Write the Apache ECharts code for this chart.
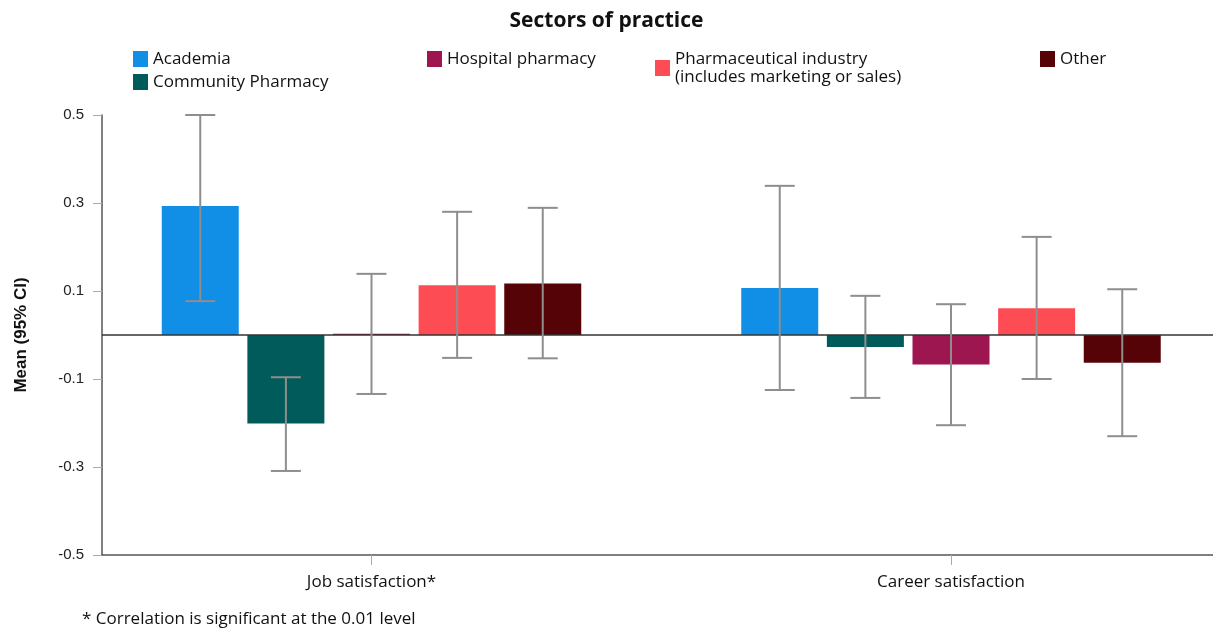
<!DOCTYPE html>
<html>
<head>
<meta charset="utf-8">
<script src="https://cdn.jsdelivr.net/npm/echarts@6/dist/echarts.min.js"></script>
<style>
html,body{margin:0;padding:0;background:#fff;}
#chart{width:1213px;height:628px;}
</style>
</head>
<body>
<div id="chart"></div>
<script>
// ---- data ----
const categories = ['Job satisfaction*', 'Career satisfaction'];
const sectors = ['Academia', 'Community Pharmacy', 'Hospital pharmacy', 'Pharmaceutical industry (includes marketing or sales)', 'Other'];
const meanAcademia = [0.293, 0.107];
const meanCommunity = [-0.201, -0.027];
const meanHospital = [0.003, -0.067];
const meanIndustry = [0.113, 0.061];
const meanOther = [0.117, -0.063];
const ciLowAcademia = [0.077, -0.125];
const ciHighAcademia = [0.500, 0.339];
const ciLowCommunity = [-0.309, -0.143];
const ciHighCommunity = [-0.096, 0.089];
const ciLowHospital = [-0.134, -0.205];
const ciHighHospital = [0.139, 0.070];
const ciLowIndustry = [-0.052, -0.100];
const ciHighIndustry = [0.280, 0.223];
const ciLowOther = [-0.053, -0.230];
const ciHighOther = [0.289, 0.104];
const yTicks = [-0.5, -0.3, -0.1, 0.1, 0.3, 0.5];

// ---- styling ----
const colors = ['#118ee6', '#015b5a', '#9e1650', '#fe4c55', '#560308'];
const BAR_W = 77;
const BAR_GAP = 0.112;
const LEGEND_FONT = '"Open Sans", "Liberation Sans", sans-serif';
const AXIS_FONT = '"Liberation Sans", Arial, sans-serif';

const means = [meanAcademia, meanCommunity, meanHospital, meanIndustry, meanOther];
const lows = [ciLowAcademia, ciLowCommunity, ciLowHospital, ciLowIndustry, ciLowOther];
const highs = [ciHighAcademia, ciHighCommunity, ciHighHospital, ciHighIndustry, ciHighOther];

const barSeries = sectors.map((name, i) => ({
  name: name,
  type: 'bar',
  barWidth: BAR_W,
  barGap: (BAR_GAP * 100) + '%',
  itemStyle: {color: colors[i]},
  data: means[i].map((v, c) => [c, v]),
  z: 2
}));

const errData = [];
sectors.forEach((s, i) => {
  categories.forEach((c, ci) => {
    errData.push([ci, lows[i][ci], highs[i][ci], i]);
  });
});

const step = BAR_W * (1 + BAR_GAP);
const errSeries = {
  type: 'custom',
  name: 'ci',
  data: errData,
  encode: {x: 0, y: [1, 2]},
  z: 5,
  renderItem: function (params, api) {
    const k = api.value(3);
    const lo = api.coord([api.value(0), api.value(1)]);
    const hi = api.coord([api.value(0), api.value(2)]);
    const x = lo[0] + (k - 2) * step;
    const cap = 15;
    const st = {stroke: '#8e8e8e', lineWidth: 2};
    return {
      type: 'group',
      children: [
        {type: 'line', shape: {x1: x, y1: hi[1], x2: x, y2: lo[1]}, style: st},
        {type: 'line', shape: {x1: x - cap, y1: hi[1], x2: x + cap, y2: hi[1]}, style: st},
        {type: 'line', shape: {x1: x - cap, y1: lo[1], x2: x + cap, y2: lo[1]}, style: st}
      ]
    };
  }
};

barSeries[0].markLine = {
  silent: true,
  symbol: 'none',
  label: {show: false},
  lineStyle: {color: '#333', width: 1.5, type: 'solid'},
  data: [{yAxis: 0}]
};

const legendPos = [
  {left: 128, top: 45},
  {left: 128, top: 68},
  {left: 422, top: 45},
  {left: 650, top: 45},
  {left: 1035, top: 45}
];
const legends = sectors.map((name, i) => ({
  data: [name],
  left: legendPos[i].left,
  top: legendPos[i].top,
  icon: 'rect',
  itemWidth: 15,
  itemHeight: 16,
  itemGap: 6,
  selectedMode: false,
  formatter: n => n.replace(' (includes', '\n(includes'),
  textStyle: {fontFamily: LEGEND_FONT, fontSize: 17, color: '#111', lineHeight: 18, padding: [0, 0, 0, 0]}
}));

const xMin = (102 - 371.5) / 579.5;
const xMax = (1213 - 371.5) / 579.5;

const option = {
  animation: false,
  backgroundColor: '#fff',
  color: colors,
  title: {
    text: 'Sectors of practice',
    left: 'center',
    top: 6,
    textStyle: {fontFamily: LEGEND_FONT, fontSize: 21, fontWeight: 'bold', color: '#111'}
  },
  legend: legends,
  grid: {left: 102, right: 0, top: 115, bottom: 73, containLabel: false},
  xAxis: {
    type: 'value',
    min: xMin,
    max: xMax,
    splitLine: {show: false},
    axisLine: {show: true, onZero: false, lineStyle: {color: '#555', width: 1.5}},
    axisTick: {show: true, customValues: [0, 1], length: 10, lineStyle: {color: '#aaa'}},
    axisLabel: {
      customValues: [0, 1],
      formatter: v => categories[Math.round(v)],
      margin: 19,
      fontFamily: LEGEND_FONT,
      fontSize: 17,
      color: '#111'
    }
  },
  yAxis: {
    type: 'value',
    min: -0.5,
    max: 0.5,
    name: 'Mean (95% CI)',
    nameLocation: 'middle',
    nameGap: 72,
    nameTextStyle: {fontFamily: AXIS_FONT, fontSize: 17, fontWeight: 'bold', color: '#111'},
    splitLine: {show: false},
    axisLine: {show: true, onZero: false, lineStyle: {color: '#555', width: 1.5}},
    axisTick: {show: true, customValues: yTicks, length: 9, lineStyle: {color: '#aaa'}},
    axisLabel: {
      customValues: yTicks,
      formatter: v => String(Math.round(v * 10) / 10),
      margin: 18,
      fontFamily: AXIS_FONT,
      fontSize: 15,
      color: '#222'
    }
  },
  graphic: [{
    type: 'text',
    left: 82,
    top: 611,
    style: {text: '* Correlation is significant at the 0.01 level', font: '17px ' + LEGEND_FONT, fill: '#111'}
  }],
  series: barSeries.concat([errSeries])
};

const chart = echarts.init(document.getElementById('chart'), null, {renderer: 'canvas'});
chart.setOption(option);
</script>
</body>
</html>
